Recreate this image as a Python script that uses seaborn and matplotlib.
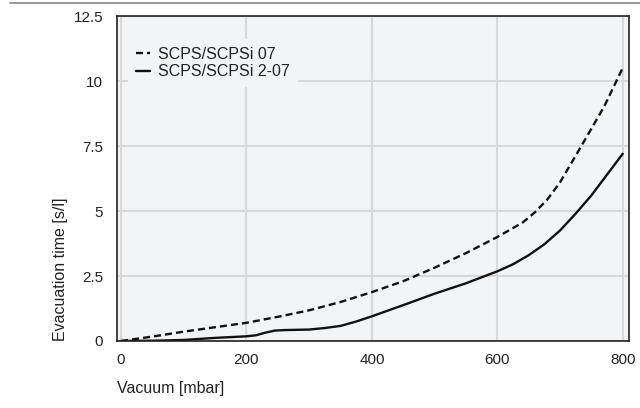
import matplotlib
matplotlib.use("Agg")
import matplotlib.pyplot as plt
from matplotlib.lines import Line2D
import seaborn as sns
import pandas as pd

# Evacuation time per litre vs. vacuum level for two ejector models
vac_07 = [0, 50, 100, 150, 200, 250, 300, 350, 400, 450, 500, 550, 600, 640, 660,
          680, 700, 717, 734, 752, 770, 785, 800]
time_07 = [0, 0.17, 0.36, 0.53, 0.70, 0.93, 1.18, 1.50, 1.88, 2.30, 2.82, 3.38, 4.00, 4.55, 4.95,
           5.45, 6.10, 6.80, 7.50, 8.25, 9.00, 9.75, 10.50]

vac_207 = [0, 50, 100, 150, 200, 215, 230, 245, 260, 300, 325, 350, 375, 400, 450, 500, 550,
           600, 625, 650, 675, 700, 725, 750, 775, 800]
time_207 = [0, 0.01, 0.04, 0.12, 0.18, 0.22, 0.32, 0.40, 0.42, 0.44, 0.50, 0.58, 0.75, 0.95, 1.38,
            1.82, 2.22, 2.68, 2.95, 3.30, 3.72, 4.25, 4.90, 5.60, 6.40, 7.20]

series_names = ["SCPS/SCPSi 07", "SCPS/SCPSi 2-07"]
x_ticks = [0, 200, 400, 600, 800]
y_ticks = [0, 2.5, 5, 7.5, 10, 12.5]
y_tick_labels = ["0", "2.5", "5", "7.5", "10", "12.5"]

df = pd.concat([
    pd.DataFrame({"vac": vac_07, "t": time_07, "model": series_names[0]}),
    pd.DataFrame({"vac": vac_207, "t": time_207, "model": series_names[1]}),
], ignore_index=True)

sns.set_theme(style="white")
plt.rcParams["font.family"] = ["Liberation Sans", "DejaVu Sans"]

fig = plt.figure(figsize=(6.4, 4.08), dpi=100)
ax = fig.add_axes([117 / 640, 1 - 341 / 408, 512 / 640, 325 / 408])
ax.set_facecolor("#f3f4f6")

sns.lineplot(data=df, x="vac", y="t", hue="model", style="model",
             palette=["#111111", "#111111"],
             dashes={series_names[0]: (3.0, 1.7), series_names[1]: ""},
             linewidth=1.7, ax=ax, sort=False, estimator=None)

ax.set_xlim(-6.5, 810)
ax.set_ylim(0, 12.5)
ax.set_xticks(x_ticks)
ax.set_yticks(y_ticks)
ax.set_yticklabels(y_tick_labels)
ax.grid(True, color="#d9d9d9", linewidth=1.5)
ax.set_axisbelow(True)
ax.tick_params(axis="both", length=0, labelsize=11, colors="#222222")
ax.tick_params(axis="y", pad=10)
ax.tick_params(axis="x", pad=9)

for side in ax.spines.values():
    side.set_color("#222222")
    side.set_linewidth(1.2)

ax.set_xlabel("Vacuum [mbar]", loc="left", fontsize=11.5, color="#222222", labelpad=10)
ax.set_ylabel("Evacuation time [s/l]", loc="bottom", fontsize=11.5, color="#222222", labelpad=4)

leg = ax.legend(loc="upper left", bbox_to_anchor=(0.021, 0.93), frameon=True,
                facecolor="#f3f4f6", edgecolor="none", framealpha=1.0,
                fontsize=11.5, handlelength=0.9, handletextpad=0.5,
                borderaxespad=0.0, labelspacing=0.15, borderpad=0.5)
for txt in leg.get_texts():
    txt.set_color("#222222")

# Thin rule along the top of the figure
fig.add_artist(Line2D([10 / 640, 1.0], [1 - 3 / 408, 1 - 3 / 408],
                      transform=fig.transFigure, color="#888888", linewidth=1.2))

fig.savefig("out.png", dpi=100)
